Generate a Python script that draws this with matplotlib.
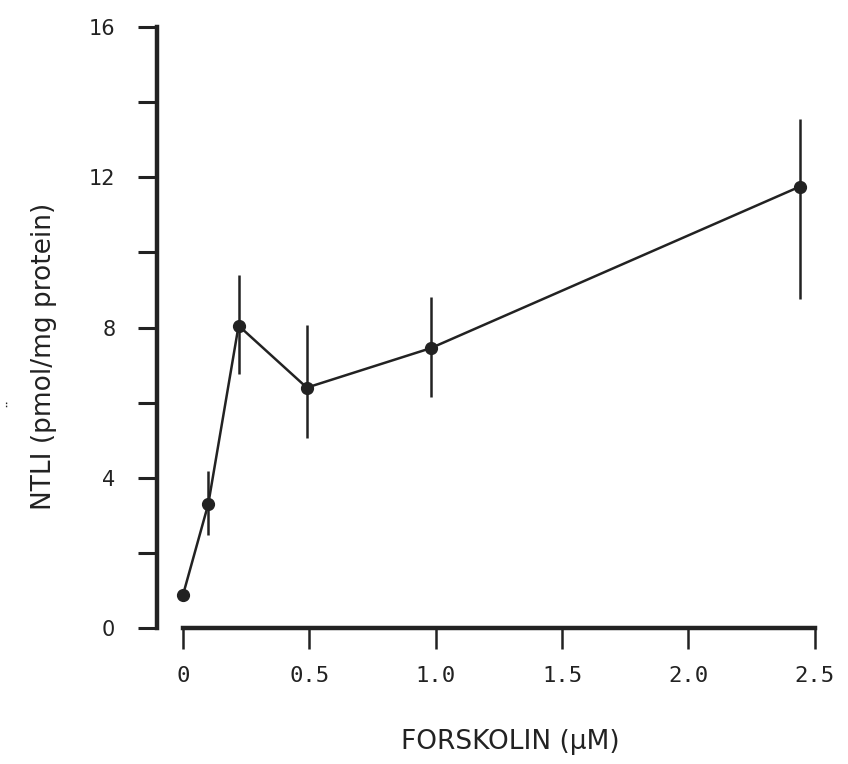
import matplotlib

matplotlib.use("Agg")

import matplotlib.pyplot as plt

# forskolin dose (uM) and NTLI response
forskolin_um = [0.0, 0.1, 0.22, 0.49, 0.98, 2.44]
ntli_mean = [0.88, 3.3, 8.05, 6.4, 7.45, 11.75]
err_low = [0.0, 0.83, 1.29, 1.35, 1.31, 3.0]
err_high = [0.0, 0.88, 1.34, 1.66, 1.35, 1.81]

x_ticks = [0.0, 0.5, 1.0, 1.5, 2.0, 2.5]
x_tick_labels = ["0", "0.5", "1.0", "1.5", "2.0", "2.5"]
y_major = [0, 4, 8, 12, 16]
y_minor = [2, 6, 10, 14]

INK = "#222222"
SPINE_W = 3.2
LINE_W = 1.8

fig = plt.figure(figsize=(8.48, 7.64), dpi=100)
ax = fig.add_axes([0.1851, 0.178, 0.7936, 0.8013])

ax.errorbar(
    forskolin_um,
    ntli_mean,
    yerr=[err_low, err_high],
    color=INK,
    linewidth=LINE_W,
    elinewidth=1.8,
    capsize=0,
    marker="o",
    markersize=8.5,
    markerfacecolor=INK,
    markeredgecolor=INK,
    clip_on=False,
    zorder=3,
)

ax.set_xlim(-0.103, 2.56)
ax.set_ylim(0, 16.3)

for side in ("top", "right"):
    ax.spines[side].set_visible(False)
ax.spines["left"].set_bounds(0, 16)
ax.spines["bottom"].set_bounds(0, 2.5)
for side in ("left", "bottom"):
    ax.spines[side].set_linewidth(SPINE_W)
    ax.spines[side].set_color(INK)

ax.set_xticks(x_ticks)
ax.set_xticklabels(x_tick_labels, family="DejaVu Sans Mono", fontsize=16, color=INK)
ax.set_yticks(y_major)
ax.set_yticklabels([str(v) for v in y_major], family="DejaVu Sans", fontsize=15, color=INK)
ax.set_yticks(y_minor, minor=True)

ax.tick_params(axis="x", direction="out", length=15, width=1.8, pad=12, colors=INK)
ax.tick_params(axis="y", which="both", direction="out", length=14, width=2.2, pad=16, colors=INK)

fig.text(510 / 848, 1 - 742 / 764, "FORSKOLIN (µM)", ha="center", va="center",
         fontsize=19, color=INK)
fig.text(44 / 848, 1 - 356 / 764, "NTLI (pmol/mg protein)", ha="center", va="center",
         rotation=90, fontsize=19, color=INK)
fig.text(13 / 848, 1 - 403 / 764, "¨", ha="center", va="center",
         rotation=90, fontsize=12, color=INK)

fig.savefig("out.png", dpi=100)
